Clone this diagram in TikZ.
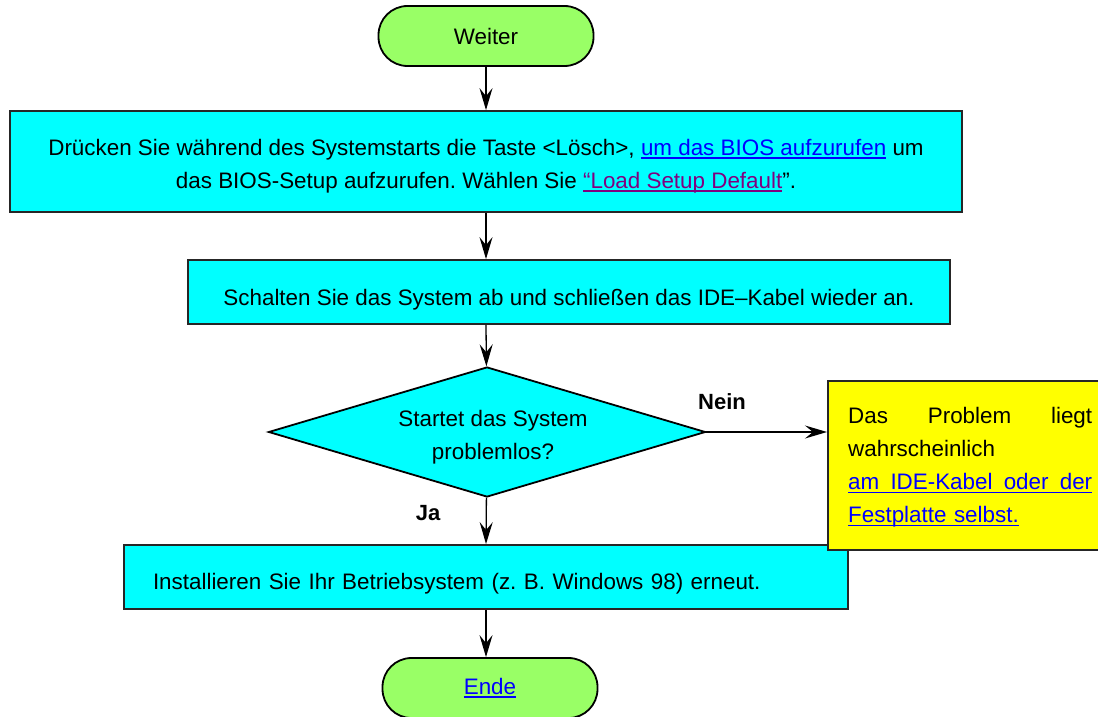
\documentclass[tikz,border=0pt]{standalone}
\usepackage{fontspec}
\setmainfont{Liberation Sans}
\usetikzlibrary{shapes.geometric,arrows.meta}
\definecolor{termgreen}{HTML}{99FF66}
\definecolor{boxcyan}{HTML}{00FFFF}
\definecolor{noteyellow}{HTML}{FFFF00}
\definecolor{linkblue}{HTML}{0000FF}
\definecolor{visited}{HTML}{800080}
\frenchspacing
\newsavebox{\ulbox}
\newcommand{\ulx}[1]{\sbox{\ulbox}{#1}\rlap{\rule[-3.5pt]{\wd\ulbox}{1.4pt}}\usebox{\ulbox}}
\newcommand{\lnk}[1]{\textcolor{linkblue}{\ulx{#1}}}
\newcommand{\vlnk}[1]{\textcolor{visited}{\ulx{#1}}}
\newcommand{\justline}[1]{\makebox[244pt][s]{\spaceskip=0pt\relax\xspaceskip=0pt\relax #1}}
\begin{document}
\begin{tikzpicture}[x=1pt,y=-1pt,
  every node/.style={font=\fontsize{22.4}{33}\selectfont\frenchspacing},
  terminal/.style={draw=black, line width=1.8pt, fill=termgreen, rounded corners=29pt, minimum width=215pt, minimum height=60pt, inner sep=0pt},
  procbox/.style={draw=black!85, line width=1.8pt, fill=boxcyan, inner sep=0pt, align=center},
  decision/.style={draw=black, line width=1.8pt, fill=boxcyan, diamond, minimum width=437pt, minimum height=130pt, inner sep=0pt},
  flow/.style={line width=1.3pt, -{Stealth[length=22pt,width=13pt,inset=8pt]}},
  lbl/.style={font=\fontsize{22}{26}\selectfont\bfseries}
]
\useasboundingbox (0,0) rectangle (1098,717);
\node[terminal] (start) at (486,36) {Weiter};
\node[procbox, minimum width=952pt, minimum height=101pt, text height=53pt, text depth=0pt] (bios) at (486,161.5)
  {Drücken Sie während des Systemstarts die Taste <Lösch>, \lnk{um das BIOS aufzurufen} um\\
   das BIOS-Setup aufzurufen. Wählen Sie \vlnk{“Load Setup Default}”.};
\node[procbox, minimum width=762pt, minimum height=64pt, text height=26pt, text depth=0pt] (cable) at (569,292)
  {Schalten Sie das System ab und schließen das IDE–Kabel wieder an.};
\node[decision] (dec) at (487,432) {};
\node[align=center, inner sep=0pt] (dectext) at (493,437) {Startet das System\\problemlos?};
\node[procbox, minimum width=724pt, minimum height=64pt, text height=24pt, text depth=0pt, text width=666pt, align=left] (inst) at (486,577)
  {Installieren Sie Ihr Betriebsystem (z. B. Windows 98) erneut.};
\node[terminal] (end) at (490,688) {\lnk{Ende}};
\node[draw=black!85, line width=1.8pt, fill=noteyellow, minimum width=290pt, minimum height=169pt, inner sep=0pt, anchor=north west] (note) at (827,380) {};
\node[anchor=north west, inner sep=0pt, text width=244pt, align=left] (notetext) at (848,407)
  {\justline{Das Problem liegt}\\
   wahrscheinlich\\
   \textcolor{linkblue}{\rlap{\rule[-3.5pt]{244pt}{1.4pt}}\justline{am IDE-Kabel oder der}}\\
   \lnk{Festplatte selbst.}};
\draw[flow] (start) -- (start |- bios.north);
\draw[flow] (start |- bios.south) -- (start |- cable.north);
\draw[flow] (start |- cable.south) -- (dec);
\draw[flow] (dec.east) -- (dec.east -| note.west);
\draw[flow] (dec) -- (start |- inst.north);
\draw[flow] (start |- inst.south) -- (start |- end.north);
\node[lbl] (nein) at (722,402) {Nein};
\node[lbl] (ja) at (428,513) {Ja};
\end{tikzpicture}
\end{document}
